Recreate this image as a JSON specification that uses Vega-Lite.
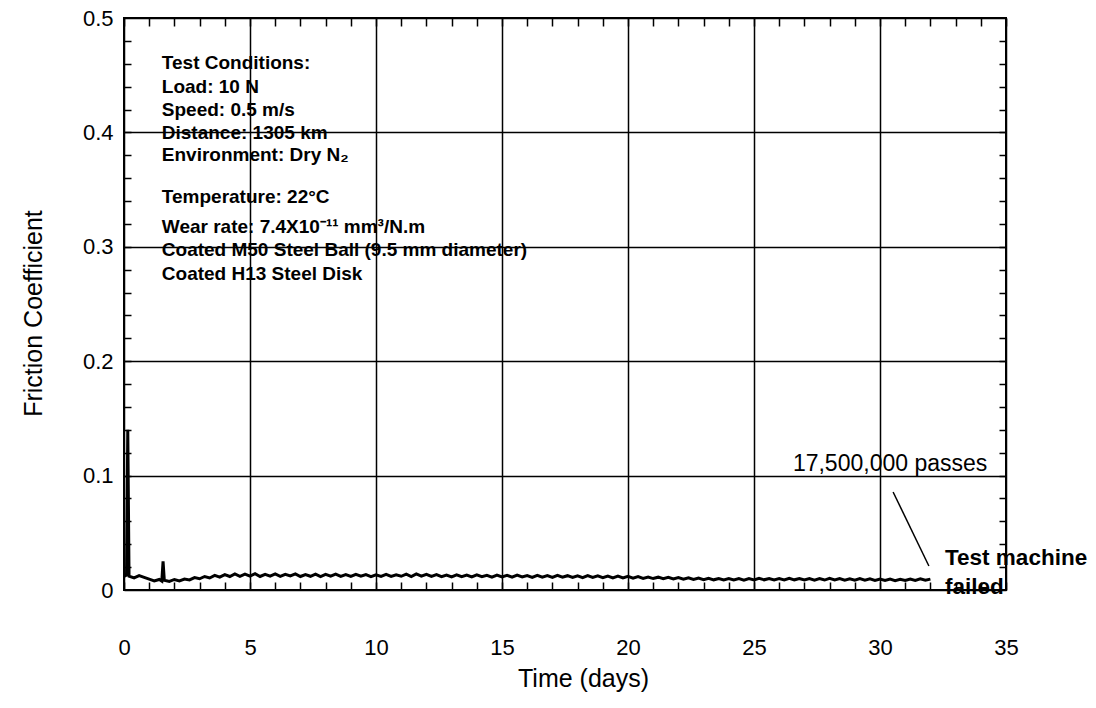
{
  "$schema": "https://vega.github.io/schema/vega-lite/v6.json",
  "width": 882,
  "height": 572,
  "autosize": {"type": "none"},
  "padding": {"left": 124, "top": 18, "right": 90, "bottom": 118},
  "background": "white",
  "config": {
    "view": {"stroke": "black", "strokeWidth": 2},
    "font": "Liberation Sans",
    "axis": {"labelColor": "black", "titleColor": "black", "labelFont": "Liberation Sans", "titleFont": "Liberation Sans", "titleFontWeight": "normal"}
  },
  "datasets": {
    "friction": [
      {"t": 0, "f": 0.012}, {"t": 0.1, "f": 0.013}, {"t": 0.15, "f": 0.14}, {"t": 0.2, "f": 0.012},
      {"t": 0.4, "f": 0.0105}, {"t": 0.6, "f": 0.0125}, {"t": 0.8, "f": 0.011}, {"t": 1.0, "f": 0.0095},
      {"t": 1.2, "f": 0.008}, {"t": 1.4, "f": 0.0092}, {"t": 1.5, "f": 0.0078}, {"t": 1.55, "f": 0.025},
      {"t": 1.6, "f": 0.0085}, {"t": 1.8, "f": 0.0075}, {"t": 2.0, "f": 0.0092}, {"t": 2.2, "f": 0.008},
      {"t": 2.4, "f": 0.0095}, {"t": 2.6, "f": 0.0088}, {"t": 2.8, "f": 0.0108}, {"t": 3.0, "f": 0.0098},
      {"t": 3.2, "f": 0.0118}, {"t": 3.4, "f": 0.0105}, {"t": 3.6, "f": 0.0128}, {"t": 3.8, "f": 0.0112},
      {"t": 4.0, "f": 0.0135}, {"t": 4.2, "f": 0.0118}, {"t": 4.4, "f": 0.014}, {"t": 4.6, "f": 0.012},
      {"t": 4.8, "f": 0.0138}, {"t": 5.0, "f": 0.0122}, {"t": 5.2, "f": 0.0142}, {"t": 5.4, "f": 0.0118},
      {"t": 5.6, "f": 0.0136}, {"t": 5.8, "f": 0.0121}, {"t": 6.0, "f": 0.014}, {"t": 6.2, "f": 0.0119},
      {"t": 6.4, "f": 0.0137}, {"t": 6.6, "f": 0.0123}, {"t": 6.8, "f": 0.0141}, {"t": 7.0, "f": 0.0118},
      {"t": 7.2, "f": 0.0135}, {"t": 7.4, "f": 0.012}, {"t": 7.6, "f": 0.0139}, {"t": 7.8, "f": 0.0117},
      {"t": 8.0, "f": 0.0136}, {"t": 8.2, "f": 0.0121}, {"t": 8.4, "f": 0.0138}, {"t": 8.6, "f": 0.0119},
      {"t": 8.8, "f": 0.0134}, {"t": 9.0, "f": 0.0118}, {"t": 9.2, "f": 0.0137}, {"t": 9.4, "f": 0.012},
      {"t": 9.6, "f": 0.0135}, {"t": 9.8, "f": 0.0117}, {"t": 10.0, "f": 0.0133}, {"t": 10.2, "f": 0.0119},
      {"t": 10.4, "f": 0.0136}, {"t": 10.6, "f": 0.0118}, {"t": 10.8, "f": 0.0132}, {"t": 11.0, "f": 0.012},
      {"t": 11.2, "f": 0.0138}, {"t": 11.4, "f": 0.0117}, {"t": 11.6, "f": 0.014}, {"t": 11.8, "f": 0.0121},
      {"t": 12.0, "f": 0.0137}, {"t": 12.2, "f": 0.0118}, {"t": 12.4, "f": 0.0134}, {"t": 12.6, "f": 0.0116},
      {"t": 12.8, "f": 0.0131}, {"t": 13.0, "f": 0.0115}, {"t": 13.2, "f": 0.0133}, {"t": 13.4, "f": 0.0117},
      {"t": 13.6, "f": 0.013}, {"t": 13.8, "f": 0.0114}, {"t": 14.0, "f": 0.0132}, {"t": 14.2, "f": 0.0116},
      {"t": 14.4, "f": 0.0129}, {"t": 14.6, "f": 0.0113}, {"t": 14.8, "f": 0.0131}, {"t": 15.0, "f": 0.0115},
      {"t": 15.2, "f": 0.0128}, {"t": 15.4, "f": 0.0112}, {"t": 15.6, "f": 0.013}, {"t": 15.8, "f": 0.0114},
      {"t": 16.0, "f": 0.0127}, {"t": 16.2, "f": 0.0111}, {"t": 16.4, "f": 0.0129}, {"t": 16.6, "f": 0.0113},
      {"t": 16.8, "f": 0.0126}, {"t": 17.0, "f": 0.011}, {"t": 17.2, "f": 0.0128}, {"t": 17.4, "f": 0.0112},
      {"t": 17.6, "f": 0.0125}, {"t": 17.8, "f": 0.0109}, {"t": 18.0, "f": 0.0124}, {"t": 18.2, "f": 0.0108},
      {"t": 18.4, "f": 0.0126}, {"t": 18.6, "f": 0.011}, {"t": 18.8, "f": 0.0123}, {"t": 19.0, "f": 0.0107},
      {"t": 19.2, "f": 0.0122}, {"t": 19.4, "f": 0.0106}, {"t": 19.6, "f": 0.0121}, {"t": 19.8, "f": 0.0105},
      {"t": 20.0, "f": 0.0119}, {"t": 20.2, "f": 0.0104}, {"t": 20.4, "f": 0.0117}, {"t": 20.6, "f": 0.0102},
      {"t": 20.8, "f": 0.0114}, {"t": 21.0, "f": 0.01}, {"t": 21.2, "f": 0.0112}, {"t": 21.4, "f": 0.0098},
      {"t": 21.6, "f": 0.011}, {"t": 21.8, "f": 0.0096}, {"t": 22.0, "f": 0.0108}, {"t": 22.2, "f": 0.0094},
      {"t": 22.4, "f": 0.0106}, {"t": 22.6, "f": 0.0092}, {"t": 22.8, "f": 0.0104}, {"t": 23.0, "f": 0.009},
      {"t": 23.2, "f": 0.0102}, {"t": 23.4, "f": 0.0089}, {"t": 23.6, "f": 0.0101}, {"t": 23.8, "f": 0.0088},
      {"t": 24.0, "f": 0.01}, {"t": 24.2, "f": 0.0087}, {"t": 24.4, "f": 0.0099}, {"t": 24.6, "f": 0.0086},
      {"t": 24.8, "f": 0.01}, {"t": 25.0, "f": 0.0088}, {"t": 25.2, "f": 0.0102}, {"t": 25.4, "f": 0.0089},
      {"t": 25.6, "f": 0.0101}, {"t": 25.8, "f": 0.0087}, {"t": 26.0, "f": 0.01}, {"t": 26.2, "f": 0.0088},
      {"t": 26.4, "f": 0.0103}, {"t": 26.6, "f": 0.0089}, {"t": 26.8, "f": 0.0101}, {"t": 27.0, "f": 0.0087},
      {"t": 27.2, "f": 0.01}, {"t": 27.4, "f": 0.0086}, {"t": 27.6, "f": 0.0099}, {"t": 27.8, "f": 0.0087},
      {"t": 28.0, "f": 0.0102}, {"t": 28.2, "f": 0.0088}, {"t": 28.4, "f": 0.01}, {"t": 28.6, "f": 0.0086},
      {"t": 28.8, "f": 0.0098}, {"t": 29.0, "f": 0.0085}, {"t": 29.2, "f": 0.0099}, {"t": 29.4, "f": 0.0086},
      {"t": 29.6, "f": 0.0097}, {"t": 29.8, "f": 0.0084}, {"t": 30.0, "f": 0.0096}, {"t": 30.2, "f": 0.0083},
      {"t": 30.4, "f": 0.0095}, {"t": 30.6, "f": 0.0082}, {"t": 30.8, "f": 0.0094}, {"t": 31.0, "f": 0.0083},
      {"t": 31.2, "f": 0.0096}, {"t": 31.4, "f": 0.0084}, {"t": 31.6, "f": 0.0097}, {"t": 31.8, "f": 0.0085},
      {"t": 32.0, "f": 0.0095}
    ],
    "conditions": [
      {"t": 1.5, "f": 0.4607, "label": "Test Conditions:"},
      {"t": 1.5, "f": 0.4397, "label": "Load: 10 N"},
      {"t": 1.5, "f": 0.4196, "label": "Speed: 0.5 m/s"},
      {"t": 1.5, "f": 0.3995, "label": "Distance: 1305 km"},
      {"t": 1.5, "f": 0.3802, "label": "Environment: Dry N₂"},
      {"t": 1.5, "f": 0.3435, "label": "Temperature: 22°C"},
      {"t": 1.5, "f": 0.3172, "label": "Wear rate: 7.4X10⁻¹¹ mm³/N.m"},
      {"t": 1.5, "f": 0.2968, "label": "Coated M50 Steel Ball (9.5 mm diameter)"},
      {"t": 1.5, "f": 0.2765, "label": "Coated H13 Steel Disk"}
    ],
    "passes": [{"t": 30.4, "f": 0.104, "label": "17,500,000 passes"}],
    "failed": [
      {"t": 32.58, "f": 0.028, "label": "Test machine"},
      {"t": 32.58, "f": 0.0026, "label": "failed"}
    ],
    "leader": [{"t": 30.52, "f": 0.0857, "t2": 31.94, "f2": 0.021}]
  },
  "resolve": {"axis": {"x": "independent", "y": "independent"}},
  "layer": [
    {
      "data": {"name": "friction"},
      "mark": {"type": "line", "color": "black", "strokeWidth": 3, "clip": true},
      "encoding": {
        "x": {"field": "t", "type": "quantitative", "scale": {"domain": [0, 35], "nice": false},
          "axis": {"orient": "bottom", "values": [0, 5, 10, 15, 20, 25, 30, 35], "grid": true, "gridColor": "black", "gridWidth": 1.5, "gridOpacity": 1, "ticks": false, "domain": false, "labelPadding": 47, "labelFontSize": 22, "labelFlush": false, "title": "Time (days)", "titleFontSize": 25, "titlePadding": 8, "titleX": 459}},
        "y": {"field": "f", "type": "quantitative", "scale": {"domain": [0, 0.5], "nice": false},
          "axis": {"orient": "left", "values": [0, 0.1, 0.2, 0.3, 0.4, 0.5], "format": ".1~f", "grid": true, "gridColor": "black", "gridWidth": 1.5, "gridOpacity": 1, "ticks": false, "domain": false, "labelPadding": 11, "labelFontSize": 22, "labelFlush": false, "title": "Friction Coefficient", "titleFontSize": 25, "titlePadding": 36, "titleY": 295}}
      }
    },
    {
      "data": {"name": "conditions"},
      "mark": {"type": "text", "align": "left", "baseline": "middle", "fontSize": 19, "fontWeight": "bold", "font": "Liberation Sans", "color": "black"},
      "encoding": {
        "x": {"field": "t", "type": "quantitative",
          "axis": {"orient": "bottom", "values": [0,1,2,3,4,5,6,7,8,9,10,11,12,13,14,15,16,17,18,19,20,21,22,23,24,25,26,27,28,29,30,31,32,33,34,35], "labels": false, "domain": false, "grid": false, "ticks": true, "tickSize": -8, "tickWidth": 1.5, "tickColor": "black", "title": null}},
        "y": {"field": "f", "type": "quantitative",
          "axis": {"orient": "left", "values": [0.02,0.04,0.06,0.08,0.1,0.12,0.14,0.16,0.18,0.2,0.22,0.24,0.26,0.28,0.3,0.32,0.34,0.36,0.38,0.4,0.42,0.44,0.46,0.48], "labels": false, "domain": false, "grid": false, "ticks": true, "tickSize": -7, "tickWidth": 1.5, "tickColor": "black", "title": null}},
        "text": {"field": "label"}
      }
    },
    {
      "data": {"name": "leader"},
      "mark": {"type": "rule", "color": "black", "strokeWidth": 1.5},
      "encoding": {
        "x": {"field": "t", "type": "quantitative",
          "axis": {"orient": "top", "values": [0,1,2,3,4,5,6,7,8,9,10,11,12,13,14,15,16,17,18,19,20,21,22,23,24,25,26,27,28,29,30,31,32,33,34,35], "labels": false, "domain": false, "grid": false, "ticks": true, "tickSize": -8, "tickWidth": 1.5, "tickColor": "black", "title": null}},
        "y": {"field": "f", "type": "quantitative",
          "axis": {"orient": "right", "values": [0.02,0.04,0.06,0.08,0.1,0.12,0.14,0.16,0.18,0.2,0.22,0.24,0.26,0.28,0.3,0.32,0.34,0.36,0.38,0.4,0.42,0.44,0.46,0.48], "labels": false, "domain": false, "grid": false, "ticks": true, "tickSize": -7, "tickWidth": 1.5, "tickColor": "black", "title": null}},
        "x2": {"field": "t2"},
        "y2": {"field": "f2"}
      }
    },
    {
      "data": {"name": "passes"},
      "mark": {"type": "text", "align": "center", "baseline": "alphabetic", "fontSize": 23, "font": "Liberation Sans", "color": "black"},
      "encoding": {
        "x": {"field": "t", "type": "quantitative", "axis": null},
        "y": {"field": "f", "type": "quantitative", "axis": null},
        "text": {"field": "label"}
      }
    },
    {
      "data": {"name": "failed"},
      "mark": {"type": "text", "align": "left", "baseline": "middle", "fontSize": 22.5, "fontWeight": "bold", "font": "Liberation Sans", "color": "black"},
      "encoding": {
        "x": {"field": "t", "type": "quantitative", "axis": null},
        "y": {"field": "f", "type": "quantitative", "axis": null},
        "text": {"field": "label"}
      }
    }
  ]
}
